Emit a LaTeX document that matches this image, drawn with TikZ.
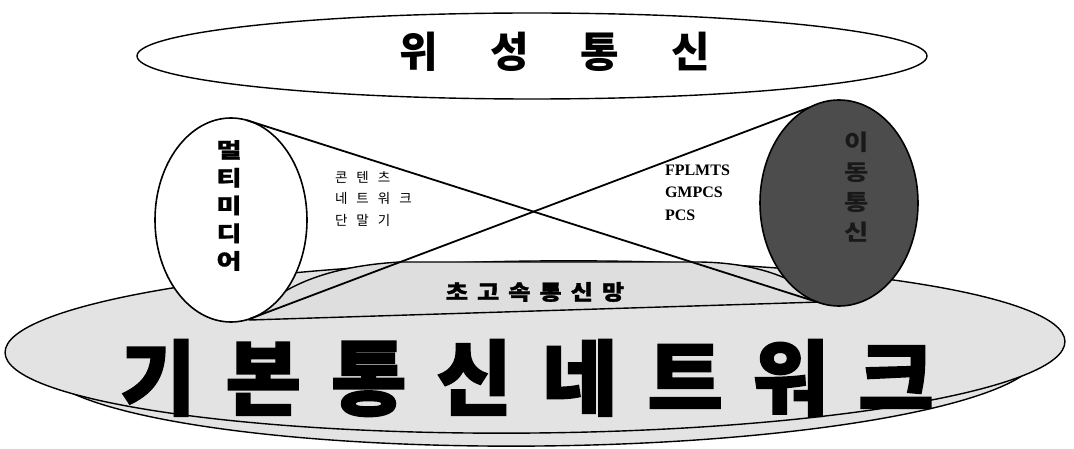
\documentclass[tikz,border=0pt]{standalone}
\usepackage{fontspec}
\newfontfamily\kr{Noto Sans CJK KR}
\newfontfamily\tnr{Liberation Serif}
\usetikzlibrary{shapes.geometric}
\begin{document}
\begin{tikzpicture}[x=1pt,y=-1pt,
  outline/.style={draw=black,line width=1.4pt},
  disc/.style={outline,fill=gray!22},
  circ/.style={ellipse,draw=black,line width=1.6pt,outer sep=0pt,inner sep=0pt},
  link/.style={draw=black,line width=1.8pt},
  lbl/.style={inner sep=0pt,outer sep=0pt}]
\useasboundingbox (0,0) rectangle (1074,449);
% top ellipse
\draw[outline,fill=white] (532,56) ellipse [x radius=395,y radius=43];
\node[lbl] (sat) at (555,52) {\kr\bfseries\fontsize{42}{42}\selectfont 위\kern52pt 성\kern52pt 통\kern52pt 신};
% base network disc
\draw[disc,rotate around={0.6:(540,357)}] (540,357) ellipse [x radius=500,y radius=89];
\draw[disc,rotate around={0.6:(535,347)}] (535,347) ellipse [x radius=530,y radius=86];
% high-speed band
\draw[outline,fill=gray!26] (250,320) .. controls (280,285) and (330,266) .. (400,262) -- (700,262) .. controls (760,263) and (800,280) .. (820,302) -- cycle;
\node[lbl] (band) at (535,292) {\kr\bfseries\addfontfeature{FakeStretch=1.15,FakeBold=1.5}\fontsize{21}{21}\selectfont 초\kern9pt 고\kern9pt 속\kern9pt 통\kern9pt 신\kern9pt 망};
\node[lbl] (base) at (527,378) {\kr\bfseries\addfontfeature{FakeBold=2}\fontsize{82}{82}\selectfont 기\kern30pt 본\kern30pt 통\kern30pt 신\kern30pt 네\kern30pt 트\kern30pt 워\kern30pt 크};
% circles
\node[circ,fill=white,minimum width=152pt,minimum height=204pt] (mm) at (231,220) {};
\node[circ,fill=black!70,minimum width=158pt,minimum height=206pt] (mob) at (839,203) {};
\node[lbl,align=center,font={\kr\bfseries\addfontfeature{FakeStretch=1.3,FakeBold=1}\fontsize{21}{27.75}\selectfont}] (mmt) at (229,205.5) {멀\\티\\미\\디\\어};
\node[lbl,align=center,text=black!90,font={\kr\bfseries\addfontfeature{FakeStretch=1.2}\fontsize{22}{30}\selectfont}] (mobt) at (857,187) {이\\동\\통\\신};
% connectors
\draw[link] (mm.81) -- (mob.258);
\draw[link] (mm.-79) -- (mob.107);
% side labels
\node[lbl,align=left,anchor=west,font={\kr\fontsize{13.5}{21.5}\selectfont}] (mmlist) at (335,198.5) {콘\kern9pt 텐\kern9pt 츠\\네\kern9pt 트\kern9pt 워\kern9pt 크\\단\kern9pt 말\kern9pt 기};
\node[lbl,align=left,anchor=west,font={\tnr\bfseries\fontsize{16}{22.5}\selectfont}] (moblist) at (665,192.5) {FPLMTS\\GMPCS\\PCS};
\end{tikzpicture}
\end{document}
